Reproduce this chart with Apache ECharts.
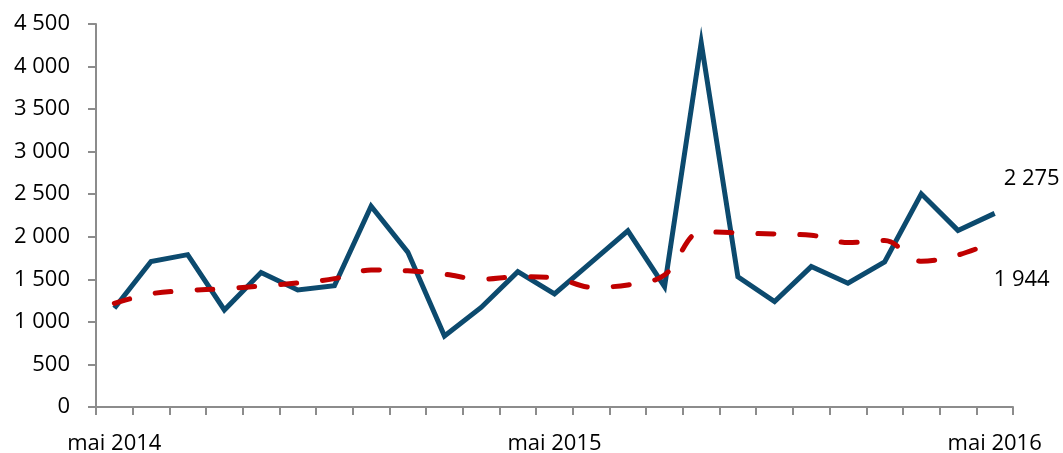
<!DOCTYPE html>
<html><head><meta charset="utf-8">
<script src="https://cdn.jsdelivr.net/npm/echarts@6/dist/echarts.min.js"></script>
<style>html,body{margin:0;padding:0;background:#fff}#c{width:1063px;height:453px}</style>
</head><body><div id="c"></div>
<script>
const months = ['mai 2014','juin 2014','juil. 2014','août 2014','sept. 2014','oct. 2014','nov. 2014','déc. 2014','janv. 2015','févr. 2015','mars 2015','avr. 2015','mai 2015','juin 2015','juil. 2015','août 2015','sept. 2015','oct. 2015','nov. 2015','déc. 2015','janv. 2016','févr. 2016','mars 2016','avr. 2016','mai 2016'];
const shownLabels = ['mai 2014','mai 2015','mai 2016'];
const monthly = [1160,1710,1790,1140,1580,1375,1425,2360,1820,835,1170,1590,1330,1700,2070,1415,4280,1530,1240,1650,1455,1705,2505,2075,2275];
const trend = [1218,1330,1368,1390,1422,1457,1508,1610,1600,1560,1500,1530,1518,1408,1434,1550,2058,2046,2032,2018,1932,1955,1712,1786,1944];
const yTicks = {min:0, max:4500, interval:500};

const fmt = v => String(v).replace(/\B(?=(\d{3})+(?!\d))/g, ' ');
const font = '"Open Sans", sans-serif';
const last = months.length - 1;
const lbl = (off) => ({show:true, formatter:p=>fmt(p.value), position:'inside', align:'center', verticalAlign:'middle', offset:off, fontSize:22, color:'#000', fontFamily:font});

const chart = echarts.init(document.getElementById('c'));
chart.setOption({
  animation:false,
  grid:{left:96, right:50, top:24, bottom:46, containLabel:false, outerBoundsMode:'none'},
  xAxis:{type:'category', data:months, boundaryGap:true,
    axisLine:{lineStyle:{color:'#8c8c8c', width:2}},
    axisTick:{show:true, interval:0, length:8, lineStyle:{color:'#8c8c8c', width:2}},
    axisLabel:{interval:0, margin:26, fontSize:22, color:'#000', fontFamily:font,
      formatter:(v)=> shownLabels.indexOf(v)>=0 ? v : ''},
    splitLine:{show:false}},
  yAxis:{type:'value', min:yTicks.min, max:yTicks.max, interval:yTicks.interval,
    axisLine:{show:true, lineStyle:{color:'#8c8c8c', width:2}},
    axisTick:{show:true, length:8, lineStyle:{color:'#8c8c8c', width:2}},
    axisLabel:{fontSize:22, color:'#000', fontFamily:font, margin:26, formatter:fmt},
    splitLine:{show:false}},
  series:[
    {type:'line', data:monthly.map((v,i)=> i===last ? {value:v, label:lbl([37,-35])} : v),
     symbol:'circle', symbolSize:1, showSymbol:true, itemStyle:{color:'rgba(0,0,0,0)', borderWidth:0},
     lineStyle:{color:'#0c4a6e', width:5, join:'miter'}, z:2},
    {type:'line', data:trend.map((v,i)=> i===last ? {value:v, label:lbl([27,38])} : v),
     symbol:'circle', symbolSize:1, showSymbol:true, itemStyle:{color:'rgba(0,0,0,0)', borderWidth:0},
     smooth:0.35, lineStyle:{color:'#c00000', width:5, type:[16,26], cap:'round'}, z:3}
  ]
});
</script></body></html>
